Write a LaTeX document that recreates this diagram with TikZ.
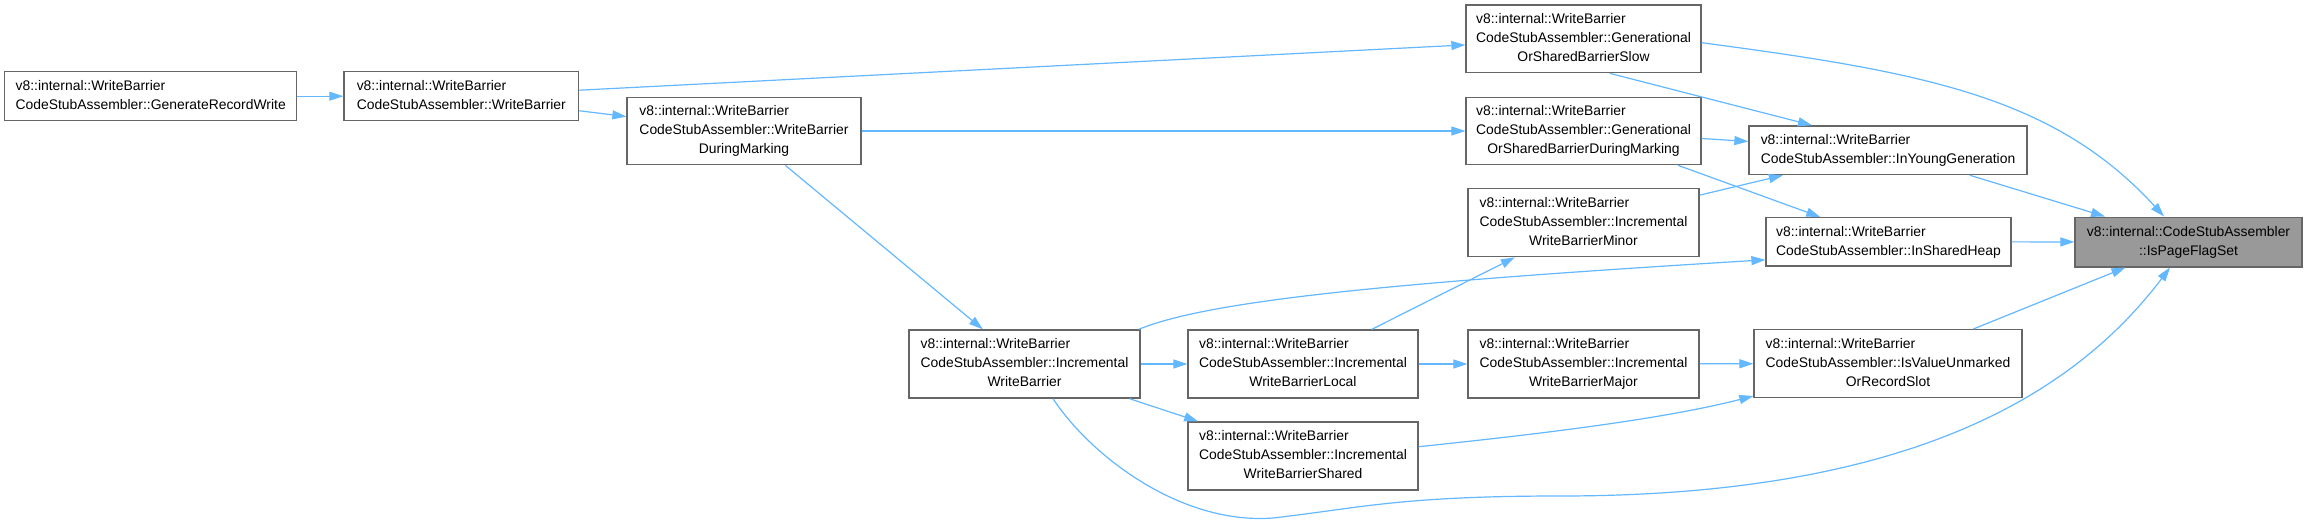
\documentclass[tikz,border=0pt]{standalone}
\usepackage{fontspec}
\setmainfont{Liberation Sans}
\usepackage{xcolor}
\usepackage{tikz}
\usetikzlibrary{arrows.meta}

\definecolor{edgeblue}{HTML}{63B8FF}
\definecolor{boxgray}{HTML}{666666}
\definecolor{hitgray}{HTML}{999999}

\newcommand{\lbltwo}[2]{\begin{tabular}{@{}l@{}}#1\\\multicolumn{1}{@{}c@{}}{#2}\end{tabular}}
\newcommand{\lblthree}[3]{\begin{tabular}{@{}l@{}}#1\\#2\\\multicolumn{1}{@{}c@{}}{#3}\end{tabular}}

\begin{document}
\begin{tikzpicture}[x=1pt,y=-1pt,
  fn/.style={draw=boxgray,line width=1.3pt,fill=white,inner sep=0pt,font=\fontsize{13.9}{19}\selectfont},
  hit/.style={fn,fill=hitgray},
  call/.style={draw=edgeblue,line width=1.2pt,-{Triangle[length=14pt,width=9pt]}}]
\fill[white] (0,0) rectangle (2306,525);
\useasboundingbox (0,0) rectangle (2306,525);
% left part
\node[fn,minimum width=292pt,minimum height=49pt] (grw) at (150.7,96.2) {\lbltwo{v8::internal::WriteBarrier}{CodeStubAssembler::GenerateRecordWrite}};
\node[fn,minimum width=234.6pt,minimum height=49pt] (wb) at (461.3,96.2) {\lbltwo{v8::internal::WriteBarrier}{CodeStubAssembler::WriteBarrier}};
\node[fn,minimum width=234pt,minimum height=67.4pt] (wbdm) at (744,131) {\lblthree{v8::internal::WriteBarrier}{CodeStubAssembler::WriteBarrier}{DuringMarking}};
\node[fn,minimum width=231pt,minimum height=68pt] (iwb) at (1024.5,364) {\lblthree{v8::internal::WriteBarrier}{CodeStubAssembler::Incremental}{WriteBarrier}};
\node[fn,minimum width=230pt,minimum height=68pt] (iwbl) at (1303,364) {\lblthree{v8::internal::WriteBarrier}{CodeStubAssembler::Incremental}{WriteBarrierLocal}};
\node[fn,minimum width=230pt,minimum height=68pt] (iwbs) at (1303,456) {\lblthree{v8::internal::WriteBarrier}{CodeStubAssembler::Incremental}{WriteBarrierShared}};
% middle column
\node[fn,minimum width=235pt,minimum height=67.7pt] (gslow) at (1583.5,38.9) {\lblthree{v8::internal::WriteBarrier}{CodeStubAssembler::Generational}{OrSharedBarrierSlow}};
\node[fn,minimum width=235pt,minimum height=67.4pt] (gdm) at (1583.5,131) {\lblthree{v8::internal::WriteBarrier}{CodeStubAssembler::Generational}{OrSharedBarrierDuringMarking}};
\node[fn,minimum width=231pt,minimum height=68pt] (iwbmin) at (1583.5,222.7) {\lblthree{v8::internal::WriteBarrier}{CodeStubAssembler::Incremental}{WriteBarrierMinor}};
\node[fn,minimum width=231pt,minimum height=68pt] (iwbmaj) at (1583.5,364) {\lblthree{v8::internal::WriteBarrier}{CodeStubAssembler::Incremental}{WriteBarrierMajor}};
% right part
\node[fn,minimum width=278pt,minimum height=48.7pt] (iyg) at (1888,150.3) {\lbltwo{v8::internal::WriteBarrier}{CodeStubAssembler::InYoungGeneration}};
\node[fn,minimum width=245pt,minimum height=48.3pt] (ish) at (1888.5,241.8) {\lbltwo{v8::internal::WriteBarrier}{CodeStubAssembler::InSharedHeap}};
\node[fn,minimum width=268pt,minimum height=67.7pt] (ivu) at (1888,363.5) {\lblthree{v8::internal::WriteBarrier}{CodeStubAssembler::IsValueUnmarked}{OrRecordSlot}};
\node[hit,minimum width=227pt,minimum height=49.7pt] (ipfs) at (2188.5,242) {\lbltwo{v8::internal::CodeStubAssembler}{::IsPageFlagSet}};
% edges
\draw[call] (grw) -- (wb);
\draw[call] (wb) -- (gslow);
\draw[call] (wb) -- (wbdm);
\draw[call] (wbdm) -- (gdm);
\draw[call] (wbdm) -- (iwb);
\draw[call] ([yshift=-3.8pt]gslow.east) .. controls (1922,72) and (2054,96) .. ([xshift=-24.5pt]ipfs.north);
\draw[call] ([xshift=26.5pt]gslow.south) -- ([xshift=-76pt]iyg.north);
\draw[call] (gdm) -- (iyg);
\draw[call] (gdm) -- (ish);
\draw[call] (iwbmin) -- (iyg);
\draw[call] (iyg) -- (ipfs);
\draw[call] (ish) -- (ipfs);
\draw[call] (ivu) -- (ipfs);
\draw[call] ([xshift=28.5pt]iwb.south) .. controls (1090,455) and (1180,525) .. (1273,518)
  .. controls (1360,508) and (1400,496) .. (1560,496)
  .. controls (1900,496) and (2070,400) .. ([xshift=-18.5pt]ipfs.south);
\draw[call] ([xshift=-2pt]iwb.north east) .. controls (1210,300) and (1400,282) .. ([yshift=-18pt]ish.west);
\draw[call] (iwb) -- (iwbl);
\draw[call] (iwb) -- (iwbs);
\draw[call] (iwbl) -- (iwbmin);
\draw[call] (iwbl) -- (iwbmaj);
\draw[call] (iwbmaj) -- (ivu);
\draw[call] ([yshift=9.3pt]iwbs.east) .. controls (1530,435) and (1660,420) .. ([yshift=2pt]ivu.south west);
\end{tikzpicture}
\end{document}
